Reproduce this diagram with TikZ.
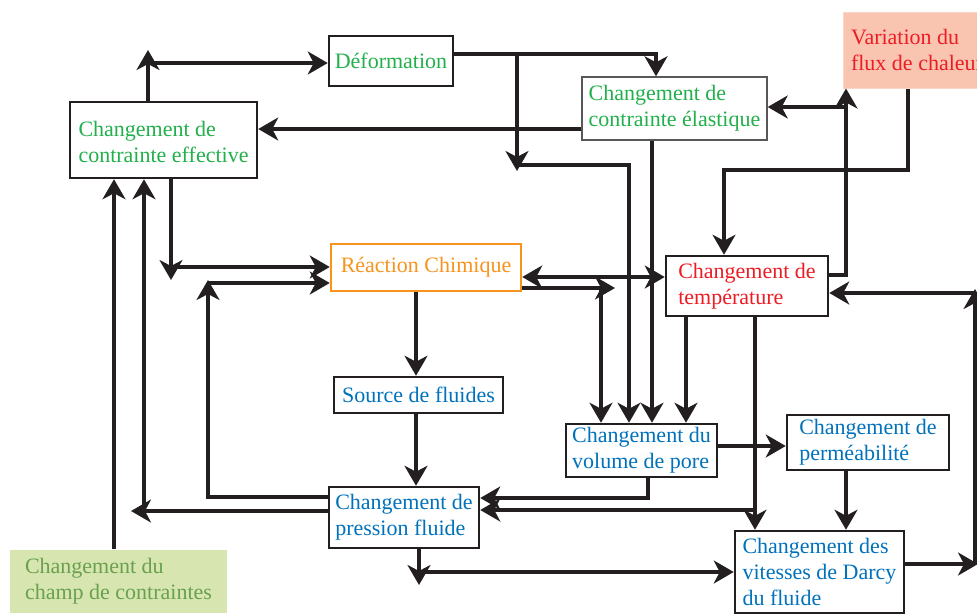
\documentclass[tikz,border=0pt]{standalone}
\usepackage{fontspec}
\setmainfont{Liberation Serif}
\usetikzlibrary{arrows.meta}
\definecolor{txtgreen}{RGB}{34,176,76}
\definecolor{txtorange}{RGB}{247,148,29}
\definecolor{txtred}{RGB}{237,28,36}
\definecolor{txtblue}{RGB}{0,114,188}
\definecolor{txtdull}{RGB}{106,160,80}
\definecolor{fillgreen}{RGB}{215,230,176}
\definecolor{fillsalmon}{RGB}{249,197,177}
\definecolor{edgesalmon}{RGB}{251,214,200}
\definecolor{boxline}{RGB}{35,31,32}
\definecolor{arrowc}{RGB}{35,31,32}
\begin{document}
\begin{tikzpicture}[x=1pt,y=-1pt,
  box/.style={draw=boxline,line width=2.5pt,fill=white,align=left,inner sep=0pt,
    font=\fontsize{22}{26}\selectfont},
  tip/.tip={Stealth[length=20pt,width=23pt,inset=6pt]},
  arr/.style={draw=arrowc,line width=3.2pt,-tip},
  arrb/.style={draw=arrowc,line width=3.2pt,tip-tip},
]
\useasboundingbox (0,0) rectangle (977,614);
\clip (0,0) rectangle (977,614);

% nodes
\node[box,text=txtgreen,minimum width=124pt,minimum height=50pt] (def) at (391,61) {Déformation};
\node[box,text=txtgreen,minimum width=187pt,minimum height=76pt] (eff) at (163.5,140) {\rule{0pt}{20pt}Changement de\\contrainte effective};
\node[box,draw=txtorange,text=txtorange,minimum width=190pt,minimum height=47pt] (rea) at (426,267.5) {Réaction Chimique};
\node[box,draw=boxline!75!white,line width=1.4pt,text=txtgreen,minimum width=185pt,minimum height=63pt] (ela) at (674.5,108.5) {Changement de\\contrainte élastique};
\node[box,draw=edgesalmon,line width=1pt,fill=fillsalmon,text=txtred,minimum width=148pt,minimum height=76pt] (var) at (917,50) {Variation du\\flux de chaleur};
\node[box,text=txtred,minimum width=162pt,minimum height=60pt] (tmp) at (747,286) {Changement de\\température};
\node[box,text=txtblue,minimum width=169pt,minimum height=36pt] (src) at (418.5,395) {Source de fluides};
\node[box,text=txtblue,minimum width=151pt,minimum height=53pt] (vol) at (641.5,450.5) {Changement du\\volume de pore};
\node[box,text=txtblue,minimum width=162pt,minimum height=55pt] (per) at (868,442.5) {Changement de\\perméabilité};
\node[box,text=txtblue,minimum width=150pt,minimum height=61pt] (prs) at (404,517.5) {Changement de\\pression fluide};
\node[box,text=txtblue,minimum width=169pt,minimum height=82pt] (dar) at (819.5,572) {Changement des\\vitesses de Darcy\\du fluide};
\node[box,draw=none,fill=fillgreen,text=txtdull,minimum width=217pt,minimum height=63pt] (chp) at (118.5,581.5) {Changement du\\champ de contraintes};

% connectors
\draw[arr] (eff.north -| 148,0) -- (148,50);
\draw[arr] (148,63) -- (def.west |- 0,63);
\draw[arr] (def.east |- 0,54) -- (656,54) -- (ela.north -| 656,0);
\draw[arr] (517,54) -- (517,171);
\draw[arr] (517,165) -- (629,165) -- (vol.north -| 629,0);
\draw[arr] (ela.south -| 652,0) -- (vol.north -| 652,0);
\draw[arr] (ela.west |- 0,129) -- (eff.east |- 0,129);
\draw[arr] (tmp.east |- 0,275) -- (846,275) -- (var.south -| 846,0);
\draw[arr] (846,107) -- (ela.east |- 0,107);
\draw[arr] (var.south -| 908,0) -- (908,170) -- (724,170) -- (tmp.north -| 724,0);
\draw[arrb] (rea.east |- 0,277) -- (tmp.west |- 0,277);
\draw[arr] (rea.east |- 0,288) -- (615,288);
\draw[arr] (601,288) -- (vol.north -| 601,0);
\draw[arr] (tmp.south -| 686,0) -- (vol.north -| 686,0);
\draw[arr] (tmp.south -| 755,0) -- (dar.north -| 755,0);
\draw[arr] (755,510) -- (prs.east |- 0,510);
\draw[arr] (vol.south -| 648,0) -- (648,498) -- (prs.east |- 0,498);
\draw[arr] (vol.east |- 0,446) -- (per.west |- 0,446);
\draw[arr] (per.south -| 846,0) -- (dar.north -| 846,0);
\draw[arr] (dar.east |- 0,564) -- (978,564);
\draw[arr] (975,564) -- (975,289);
\draw[arr] (975,293) -- (tmp.east |- 0,293);
\draw[arr] (rea.south -| 416,0) -- (src.north -| 416,0);
\draw[arr] (src.south -| 416,0) -- (prs.north -| 416,0);
\draw[arr] (prs.south -| 419,0) -- (419,585);
\draw[arr] (419,572) -- (dar.west |- 0,572);
\draw[arr] (prs.west |- 0,497) -- (208,497) -- (208,280);
\draw[arr] (208,283) -- (rea.west |- 0,283);
\draw[arr] (prs.west |- 0,511) -- (131,511);
\draw[arr] (144,511) -- (eff.south -| 144,0);
\draw[arr] (eff.south -| 171,0) -- (171,280);
\draw[arr] (171,267) -- (rea.west |- 0,267);
\draw[arr] (chp.north -| 114,0) -- (eff.south -| 114,0);
\end{tikzpicture}
\end{document}
